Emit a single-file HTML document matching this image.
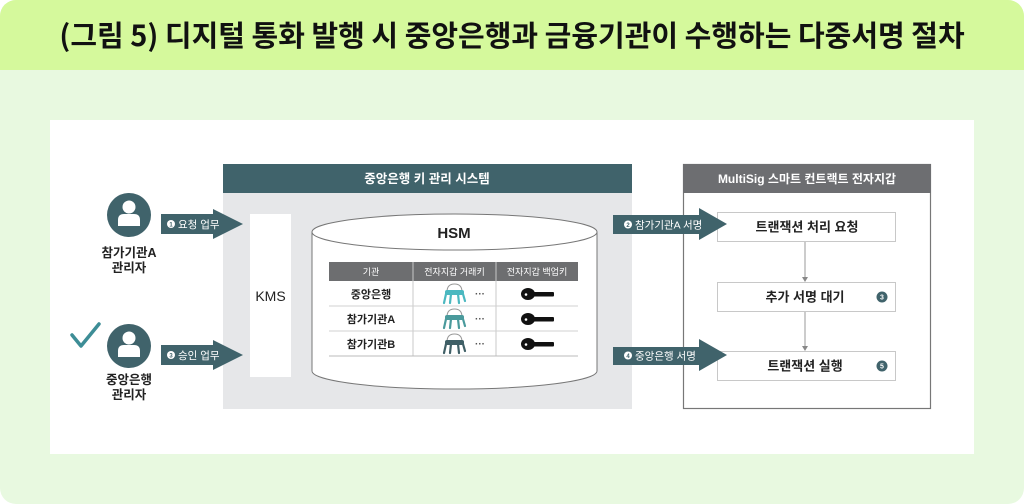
<!DOCTYPE html>
<html><head><meta charset="utf-8">
<style>
html,body{margin:0;padding:0;background:#fff;}
body{width:1024px;height:504px;overflow:hidden;}
svg{display:block;}
text{font-family:"Liberation Sans","Noto Sans CJK KR",sans-serif;}
</style></head>
<body>
<svg width="1024" height="504" viewBox="0 0 1024 504" xmlns="http://www.w3.org/2000/svg">
  <!-- background -->
  <path d="M16,0 H1008 A16,16 0 0 1 1024,16 V488 A16,16 0 0 1 1008,504 H16 A16,16 0 0 1 0,488 V16 A16,16 0 0 1 16,0 Z" fill="#e8f9e0"/>
  <path d="M16,0 H1008 A16,16 0 0 1 1024,16 V70 H0 V16 A16,16 0 0 1 16,0 Z" fill="#d5f99c"/>
  <text x="512" y="46" text-anchor="middle" font-size="29" font-weight="bold" fill="#111" style="font-family:'Noto Sans CJK KR','Liberation Sans',sans-serif">(그림 5) 디지털 통화 발행 시 중앙은행과 금융기관이 수행하는 다중서명 절차</text>

  <!-- white panel -->
  <rect x="50" y="120" width="924" height="334" fill="#ffffff"/>

  <!-- persons -->
  <circle cx="129" cy="215" r="22" fill="#40636b"/>
  <circle cx="129" cy="207" r="6.5" fill="#fff"/>
  <path d="M118,226 V220 Q118,214 124,214 H134 Q140,214 140,220 V226 Z" fill="#fff"/>
  <text x="129" y="257" text-anchor="middle" font-size="12.5" font-weight="bold" fill="#222">참가기관A</text>
  <text x="129" y="272" text-anchor="middle" font-size="12.5" font-weight="bold" fill="#222">관리자</text>

  <circle cx="129" cy="346" r="22" fill="#40636b"/>
  <circle cx="129" cy="338" r="6.5" fill="#fff"/>
  <path d="M118,357 V351 Q118,345 124,345 H134 Q140,345 140,351 V357 Z" fill="#fff"/>
  <text x="129" y="384" text-anchor="middle" font-size="12.5" font-weight="bold" fill="#222">중앙은행</text>
  <text x="129" y="399" text-anchor="middle" font-size="12.5" font-weight="bold" fill="#222">관리자</text>

  <polyline points="72,335 81,346 99,324" fill="none" stroke="#3d8d96" stroke-width="3.5" stroke-linecap="round" stroke-linejoin="round"/>

  <!-- system box -->
  <rect x="223" y="164" width="409" height="245" fill="#e6e7e9"/>
  <rect x="223" y="164" width="409" height="29" fill="#40636b"/>
  <text x="427" y="183" text-anchor="middle" font-size="12.5" font-weight="bold" fill="#fff">중앙은행 키 관리 시스템</text>

  <!-- KMS -->
  <rect x="250" y="214" width="41" height="163" fill="#fff"/>
  <text x="270.5" y="301" text-anchor="middle" font-size="14" fill="#222">KMS</text>

  <!-- arrows left -->
  <polygon points="161,214 213,214 213,209 243,224 213,239 213,234 161,234" fill="#40636b"/>
  <circle cx="171" cy="224" r="4" fill="#fff"/>
  <text x="171" y="226.3" text-anchor="middle" font-size="6" font-weight="bold" fill="#40636b">1</text>
  <text x="178" y="228" font-size="10.5" fill="#fff">요청 업무</text>

  <polygon points="161,345 213,345 213,340 243,355 213,370 213,365 161,365" fill="#40636b"/>
  <circle cx="171" cy="355" r="4" fill="#fff"/>
  <text x="171" y="357.3" text-anchor="middle" font-size="6" font-weight="bold" fill="#40636b">3</text>
  <text x="178" y="359" font-size="10.5" fill="#fff">승인 업무</text>

  <!-- HSM cylinder -->
  <path d="M312,232 V371 A142.5,18 0 0 0 597,371 V232" fill="#fff" stroke="#777" stroke-width="1"/>
  <ellipse cx="454.5" cy="232" rx="142.5" ry="18" fill="#fff" stroke="#777" stroke-width="1"/>
  <text x="454" y="238" text-anchor="middle" font-size="15" font-weight="bold" fill="#222">HSM</text>

  <!-- table -->
  <rect x="329" y="262" width="249" height="19" fill="#6d6e70"/>
  <line x1="413" y1="262" x2="413" y2="356" stroke="#c8c8c8" stroke-width="1"/>
  <line x1="496" y1="262" x2="496" y2="356" stroke="#c8c8c8" stroke-width="1"/>
  <text x="371" y="275" text-anchor="middle" font-size="9" fill="#fff">기관</text>
  <text x="454.5" y="275" text-anchor="middle" font-size="9" fill="#fff">전자지갑 거래키</text>
  <text x="537" y="275" text-anchor="middle" font-size="9" fill="#fff">전자지갑 백업키</text>
  <line x1="329" y1="306" x2="578" y2="306" stroke="#d0d0d0"/>
  <line x1="329" y1="331" x2="578" y2="331" stroke="#d0d0d0"/>
  <line x1="329" y1="356" x2="578" y2="356" stroke="#bbb"/>
  <text x="371" y="298" text-anchor="middle" font-size="11" font-weight="bold" fill="#222">중앙은행</text>
  <text x="371" y="323" text-anchor="middle" font-size="11" font-weight="bold" fill="#222">참가기관A</text>
  <text x="371" y="348" text-anchor="middle" font-size="11" font-weight="bold" fill="#222">참가기관B</text>

  <!-- keyrings -->
  <g>
    <path d="M447,292 Q447,284 454.5,284 Q462,284 462,292" fill="none" stroke="#999" stroke-width="1"/>
    <rect x="445" y="290" width="19" height="5" rx="2" fill="#4bb8c0"/>
    <path d="M446,294 L444,303 M451,294 L450,303 M458,294 L459,303 M463,294 L465,301" stroke="#4bb8c0" stroke-width="2.2" stroke-linecap="round"/>
  </g>
  <g>
    <path d="M447,317 Q447,309 454.5,309 Q462,309 462,317" fill="none" stroke="#999" stroke-width="1"/>
    <rect x="445" y="315" width="19" height="5" rx="2" fill="#4a9a9c"/>
    <path d="M446,319 L444,328 M451,319 L450,328 M458,319 L459,328 M463,319 L465,326" stroke="#4a9a9c" stroke-width="2.2" stroke-linecap="round"/>
  </g>
  <g>
    <path d="M447,342 Q447,334 454.5,334 Q462,334 462,342" fill="none" stroke="#999" stroke-width="1"/>
    <rect x="445" y="340" width="19" height="5" rx="2" fill="#3f5f66"/>
    <path d="M446,344 L444,353 M451,344 L450,353 M458,344 L459,353 M463,344 L465,351" stroke="#3f5f66" stroke-width="2.2" stroke-linecap="round"/>
  </g>
  <text x="480" y="297" text-anchor="middle" font-size="10" font-weight="bold" fill="#555">···</text>
  <text x="480" y="322" text-anchor="middle" font-size="10" font-weight="bold" fill="#555">···</text>
  <text x="480" y="347" text-anchor="middle" font-size="10" font-weight="bold" fill="#555">···</text>

  <!-- black keys -->
  <g fill="#111">
    <ellipse cx="528" cy="294" rx="7" ry="6"/><rect x="532" y="292" width="22" height="4.5" rx="1"/>
    <ellipse cx="528" cy="319" rx="7" ry="6"/><rect x="532" y="317" width="22" height="4.5" rx="1"/>
    <ellipse cx="528" cy="344" rx="7" ry="6"/><rect x="532" y="342" width="22" height="4.5" rx="1"/>
  </g>
  <circle cx="526" cy="294.5" r="1.3" fill="#fff"/>
  <circle cx="526" cy="319.5" r="1.3" fill="#fff"/>
  <circle cx="526" cy="344.5" r="1.3" fill="#fff"/>

  <!-- right box -->
  <rect x="683.5" y="164.5" width="247" height="244" fill="#fff" stroke="#777" stroke-width="1.2"/>
  <rect x="683" y="164" width="248" height="29" fill="#6d6e71"/>
  <text x="807" y="183" text-anchor="middle" font-size="12" font-weight="bold" fill="#fff">MultiSig 스마트 컨트랙트 전자지갑</text>

  <rect x="717.5" y="212.5" width="178" height="29" fill="#fff" stroke="#c8c8c8"/>
  <rect x="717.5" y="282.5" width="178" height="29" fill="#fff" stroke="#c8c8c8"/>
  <rect x="717.5" y="351.5" width="178" height="29" fill="#fff" stroke="#c8c8c8"/>
  <text x="807" y="231.5" text-anchor="middle" font-size="13" font-weight="bold" fill="#222">트랜잭션 처리 요청</text>
  <text x="805" y="301.5" text-anchor="middle" font-size="13" font-weight="bold" fill="#222">추가 서명 대기</text>
  <text x="805" y="370.5" text-anchor="middle" font-size="13" font-weight="bold" fill="#222">트랜잭션 실행</text>

  <line x1="805" y1="242" x2="805" y2="278" stroke="#999" stroke-width="1"/>
  <polygon points="802,277 808,277 805,282" fill="#888"/>
  <line x1="805" y1="312" x2="805" y2="347" stroke="#999" stroke-width="1"/>
  <polygon points="802,346 808,346 805,351" fill="#888"/>

  <circle cx="882" cy="297" r="5.5" fill="#40636b"/>
  <text x="882" y="299.5" text-anchor="middle" font-size="7" font-weight="bold" fill="#fff">3</text>
  <circle cx="882" cy="366" r="5.5" fill="#40636b"/>
  <text x="882" y="368.5" text-anchor="middle" font-size="7" font-weight="bold" fill="#fff">5</text>

  <!-- arrows right -->
  <polygon points="613,215 699,215 699,208 727,224 699,240 699,234 613,234" fill="#40636b"/>
  <circle cx="628" cy="224.5" r="4" fill="#fff"/>
  <text x="628" y="226.8" text-anchor="middle" font-size="6" font-weight="bold" fill="#40636b">2</text>
  <text x="635" y="228.5" font-size="10.5" fill="#fff">참가기관A 서명</text>

  <polygon points="613,347 699,347 699,339 727,355 699,371 699,365 613,365" fill="#40636b"/>
  <circle cx="628" cy="355.5" r="4" fill="#fff"/>
  <text x="628" y="357.8" text-anchor="middle" font-size="6" font-weight="bold" fill="#40636b">4</text>
  <text x="635" y="359.5" font-size="10.5" fill="#fff">중앙은행 서명</text>
</svg>
</body></html>
